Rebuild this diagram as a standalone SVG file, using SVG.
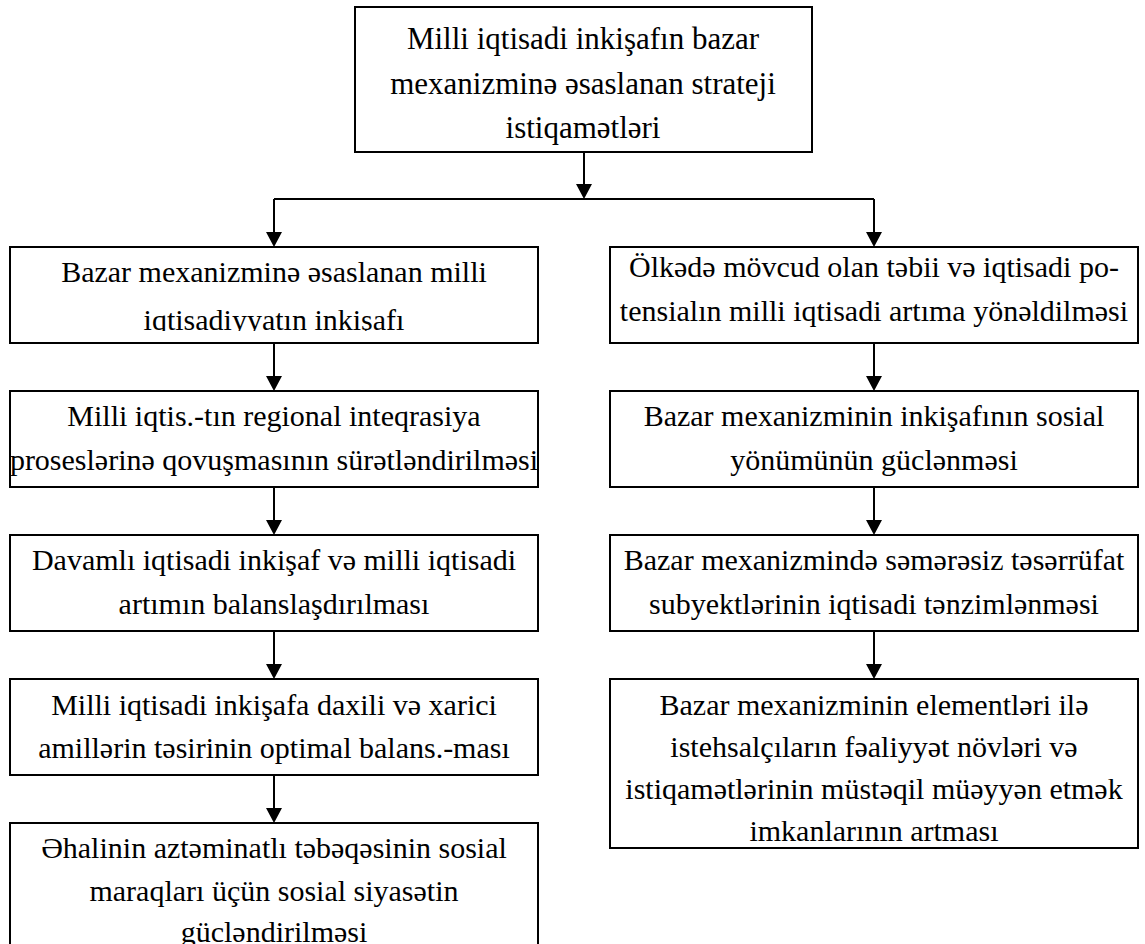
<svg xmlns="http://www.w3.org/2000/svg" width="1145" height="944" viewBox="0 0 1145 944">
<style>
.box{fill:#fff;stroke:#000;stroke-width:2}
.t{font-family:"Liberation Serif","Times New Roman","DejaVu Serif",serif;font-size:30px;fill:#000;text-anchor:middle}
.tt{font-size:31px}
.c{fill:none;stroke:#000;stroke-width:2}
</style>
<defs>
<clipPath id="clipL1"><rect x="10" y="247" width="528" height="84"/></clipPath>
</defs>
<g id="connectors">
<line class="c" x1="584" y1="152" x2="584" y2="185"/>
<path d="M576,184 L592,184 L584,199 Z"/>
<line class="c" x1="274" y1="199" x2="874" y2="199"/>
<line class="c" x1="274" y1="199" x2="274" y2="233"/>
<path d="M266,232 L282,232 L274,247 Z"/>
<line class="c" x1="874" y1="199" x2="874" y2="233"/>
<path d="M866,232 L882,232 L874,247 Z"/>
<line class="c" x1="274" y1="343" x2="274" y2="377"/>
<path d="M266,376 L282,376 L274,391 Z"/>
<line class="c" x1="274" y1="487" x2="274" y2="521"/>
<path d="M266,520 L282,520 L274,535 Z"/>
<line class="c" x1="274" y1="631" x2="274" y2="665"/>
<path d="M266,664 L282,664 L274,679 Z"/>
<line class="c" x1="274" y1="775" x2="274" y2="809"/>
<path d="M266,808 L282,808 L274,823 Z"/>
<line class="c" x1="874" y1="343" x2="874" y2="377"/>
<path d="M866,376 L882,376 L874,391 Z"/>
<line class="c" x1="874" y1="487" x2="874" y2="521"/>
<path d="M866,520 L882,520 L874,535 Z"/>
<line class="c" x1="874" y1="631" x2="874" y2="665"/>
<path d="M866,664 L882,664 L874,679 Z"/>
</g>
<g id="top">
<rect class="box" x="355" y="7" width="457" height="145"/>
<text class="t tt" x="583" y="49">Milli iqtisadi inkişafın bazar</text>
<text class="t tt" x="583" y="94">mexanizminə əsaslanan strateji</text>
<text class="t tt" x="583" y="138">istiqamətləri</text>
</g>
<g id="L1">
<rect class="box" x="10" y="247" width="528" height="96"/>
<g clip-path="url(#clipL1)">
<text class="t" x="274" y="282">Bazar mexanizminə əsaslanan milli</text>
<text class="t" x="274" y="330">iqtisadiyyatın inkişafı</text>
</g>
</g>
<g id="L2">
<rect class="box" x="10" y="391" width="528" height="96"/>
<text class="t" x="274" y="426">Milli iqtis.-tın regional inteqrasiya</text>
<text class="t" x="274" y="470">proseslərinə qovuşmasının sürətləndirilməsi</text>
</g>
<g id="L3">
<rect class="box" x="10" y="535" width="528" height="96"/>
<text class="t" x="274" y="570">Davamlı iqtisadi inkişaf və milli iqtisadi</text>
<text class="t" x="274" y="614">artımın balanslaşdırılması</text>
</g>
<g id="L4">
<rect class="box" x="10" y="679" width="528" height="96"/>
<text class="t" x="274" y="715">Milli iqtisadi inkişafa daxili və xarici</text>
<text class="t" x="274" y="758">amillərin təsirinin optimal balans.-ması</text>
</g>
<g id="L5">
<rect class="box" x="10" y="823" width="528" height="140"/>
<text class="t" x="274" y="858">Əhalinin aztəminatlı təbəqəsinin sosial</text>
<text class="t" x="274" y="901">maraqları üçün sosial siyasətin</text>
<text class="t" x="274" y="942">gücləndirilməsi</text>
</g>
<g id="R1">
<rect class="box" x="610" y="247" width="528" height="96"/>
<text class="t" x="874" y="277">Ölkədə mövcud olan təbii və iqtisadi po-</text>
<text class="t" x="874" y="321">tensialın milli iqtisadi artıma yönəldilməsi</text>
</g>
<g id="R2">
<rect class="box" x="610" y="391" width="528" height="96"/>
<text class="t" x="874" y="426">Bazar mexanizminin inkişafının sosial</text>
<text class="t" x="874" y="470">yönümünün güclənməsi</text>
</g>
<g id="R3">
<rect class="box" x="610" y="535" width="528" height="96"/>
<text class="t" x="874" y="570">Bazar mexanizmində səmərəsiz təsərrüfat</text>
<text class="t" x="874" y="614">subyektlərinin iqtisadi tənzimlənməsi</text>
</g>
<g id="R4">
<rect class="box" x="610" y="679" width="528" height="169"/>
<text class="t" x="874" y="715">Bazar mexanizminin elementləri ilə</text>
<text class="t" x="874" y="757">istehsalçıların fəaliyyət növləri və</text>
<text class="t" x="874" y="799">istiqamətlərinin müstəqil müəyyən etmək</text>
<text class="t" x="874" y="841">imkanlarının artması</text>
</g>
</svg>
